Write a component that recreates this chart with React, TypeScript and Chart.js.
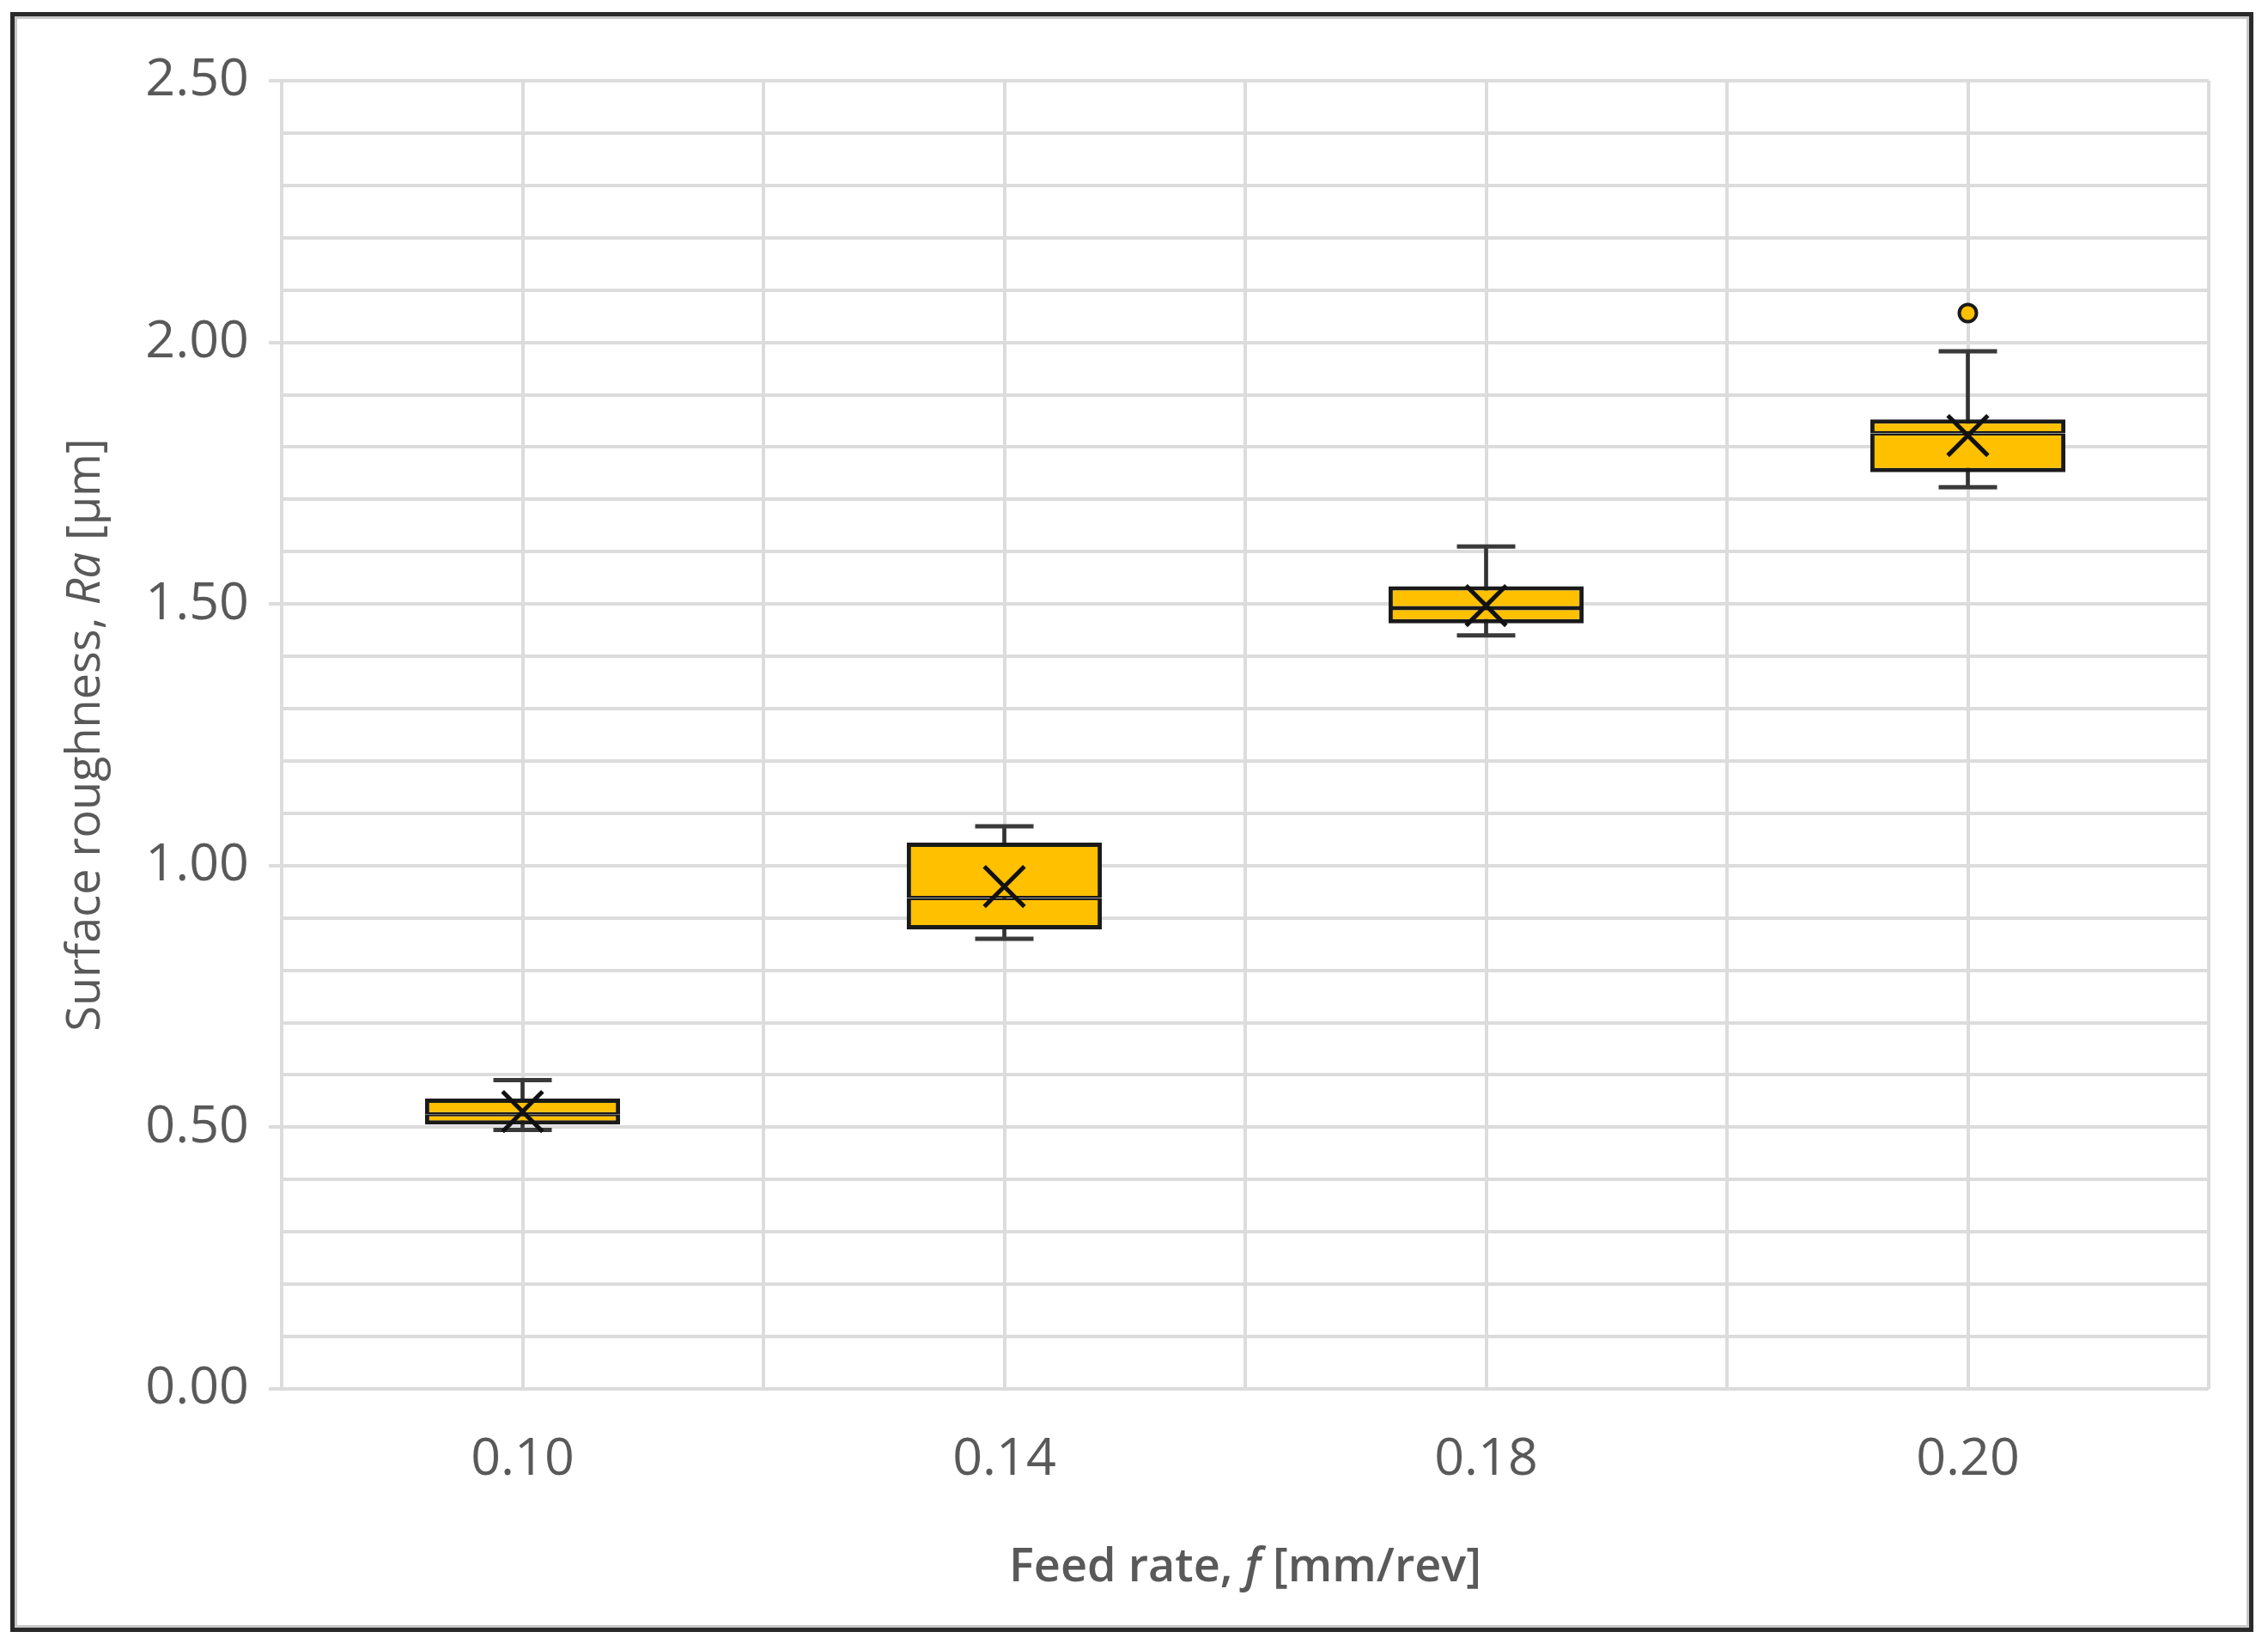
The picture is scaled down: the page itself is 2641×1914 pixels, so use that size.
import React, { useEffect, useRef } from 'react';
import { Chart, registerables } from 'chart.js';

Chart.register(...registerables);

// ---- data ----
const categories = ['0.10', '0.14', '0.18', '0.20'];
const minValues = [0.495, 0.86, 1.44, 1.723];
const q1Values = [0.505, 0.878, 1.463, 1.752];
const medianValues = [0.525, 0.938, 1.492, 1.826];
const q3Values = [0.555, 1.044, 1.534, 1.853];
const maxValues = [0.59, 1.075, 1.61, 1.983];
const meanValues = [0.53, 0.96, 1.497, 1.822];
const outlierValues = [null, null, null, 2.056];
const yTickLabels = ['0.00', '0.50', '1.00', '1.50', '2.00', '2.50'];
const yTitleParts = [
  { text: 'Surface roughness, ', italic: false },
  { text: 'Ra', italic: true },
  { text: ' [µm]', italic: false },
];
const xTitleParts = [
  { text: 'Feed rate, ', italic: false },
  { text: 'f', italic: true },
  { text: ' [mm/rev]', italic: false },
];

const FONT = '"Open Sans", "Noto Sans", sans-serif';
const TEXT = '#595959';
const GRID = '#dcdcdc';
const GOLD = '#FFC000';
const EDGE = '#1a1a1a';

function drawParts(ctx: CanvasRenderingContext2D, parts: { text: string; italic: boolean }[], cx: number, baseline: number, size: number, weight: number) {
  const fonts = parts.map((p) => `${p.italic ? 'italic ' : ''}${weight} ${size}px ${FONT}`);
  let total = 0;
  const widths = parts.map((p, i) => {
    ctx.font = fonts[i];
    const w = ctx.measureText(p.text).width;
    total += w;
    return w;
  });
  let x = cx - total / 2;
  ctx.textAlign = 'left';
  ctx.textBaseline = 'alphabetic';
  parts.forEach((p, i) => {
    ctx.font = fonts[i];
    ctx.fillText(p.text, x, baseline);
    x += widths[i];
  });
}

const titlePlugin = {
  id: 'axisTitles',
  afterDraw(chart: any) {
    const ctx = chart.ctx as CanvasRenderingContext2D;
    const a = chart.chartArea;
    ctx.save();
    ctx.fillStyle = TEXT;
    drawParts(ctx, xTitleParts, (a.left + a.right) / 2, a.bottom + 224, 54, 600);
    ctx.translate(a.left - 212, (a.top + a.bottom) / 2);
    ctx.rotate(-Math.PI / 2);
    drawParts(ctx, yTitleParts, 0, 0, 54, 400);
    ctx.restore();
  },
};

export default function App() {
  const canvasRef = useRef<HTMLCanvasElement | null>(null);

  useEffect(() => {
    document.body.style.margin = '0';
    const canvas = canvasRef.current;
    if (!canvas) return;
    const boxBar = {
      grouped: false,
      categoryPercentage: 1,
      barPercentage: 0.405,
      backgroundColor: GOLD,
      borderColor: EDGE,
      borderSkipped: false,
    };
    const chart = new Chart(canvas, {
      type: 'bar',
      data: {
        labels: categories,
        datasets: [
          {
            type: 'bar',
            label: 'whisker',
            data: categories.map((_, i) => [minValues[i], maxValues[i]]),
            grouped: false,
            barThickness: 4,
            backgroundColor: '#333333',
            borderWidth: 0,
            order: 10,
          } as any,
          {
            type: 'bar',
            label: 'lower box',
            data: categories.map((_, i) => [q1Values[i], medianValues[i]]),
            ...boxBar,
            borderWidth: { top: 2.5, bottom: 5, left: 5, right: 5 },
            order: 5,
          } as any,
          {
            type: 'bar',
            label: 'upper box',
            data: categories.map((_, i) => [medianValues[i], q3Values[i]]),
            ...boxBar,
            borderWidth: { top: 5, bottom: 2.5, left: 5, right: 5 },
            order: 5,
          } as any,
          {
            type: 'line',
            label: 'max cap',
            data: maxValues,
            showLine: false,
            pointStyle: 'line',
            pointRadius: 34,
            pointBorderWidth: 5,
            borderColor: '#3a3a3a',
            pointBorderColor: '#3a3a3a',
            order: 8,
          } as any,
          {
            type: 'line',
            label: 'min cap',
            data: minValues,
            showLine: false,
            pointStyle: 'line',
            pointRadius: 34,
            pointBorderWidth: 5,
            borderColor: '#3a3a3a',
            pointBorderColor: '#3a3a3a',
            order: 8,
          } as any,
          {
            type: 'line',
            label: 'mean',
            data: meanValues,
            showLine: false,
            pointStyle: 'crossRot',
            pointRadius: 33,
            pointBorderWidth: 5,
            borderColor: '#111111',
            pointBorderColor: '#111111',
            order: 1,
          } as any,
          {
            type: 'line',
            label: 'outlier',
            data: outlierValues,
            showLine: false,
            pointStyle: 'circle',
            pointRadius: 10,
            pointBorderWidth: 4,
            backgroundColor: GOLD,
            pointBackgroundColor: GOLD,
            borderColor: EDGE,
            pointBorderColor: EDGE,
            order: 1,
          } as any,
        ],
      },
      options: {
        animation: false,
        responsive: false,
        maintainAspectRatio: false,
        devicePixelRatio: 1,
        events: [],
        layout: { padding: { left: 0, top: 94, right: 69, bottom: 0 } },
        plugins: { legend: { display: false }, tooltip: { enabled: false }, title: { display: false } },
        scales: {
          x: {
            type: 'category',
            position: 'bottom',
            offset: true,
            grid: { offset: false, color: GRID, lineWidth: 4, drawTicks: false },
            border: { display: false },
            ticks: { color: TEXT, font: { family: FONT, size: 61 }, padding: 46, maxRotation: 0 },
            afterFit: (s: any) => { s.height = 297; },
          },
          x2: {
            type: 'category',
            position: 'top',
            labels: categories,
            offset: true,
            grid: { offset: true, color: GRID, lineWidth: 4, drawTicks: false },
            border: { display: false },
            ticks: { display: false },
            afterFit: (s: any) => { s.height = 0; },
          },
          y: {
            type: 'linear',
            min: 0,
            max: 2.5,
            grid: {
              color: GRID,
              lineWidth: 4,
              tickLength: 15,
              tickColor: (c: any) => {
                const v = Math.round((c.tick?.value ?? 0) * 100) / 100;
                return yTickLabels.includes(v.toFixed(2)) ? GRID : 'rgba(0,0,0,0)';
              },
            },
            border: { display: false },
            ticks: {
              stepSize: 0.1,
              maxTicksLimit: 40,
              autoSkip: false,
              color: TEXT,
              font: { family: FONT, size: 61 },
              padding: 23,
              callback: (v: any) => {
                const s = (Math.round(Number(v) * 100) / 100).toFixed(2);
                return yTickLabels.includes(s) ? s : '';
              },
            },
            afterFit: (s: any) => { s.width = 328; },
          },
        },
      } as any,
      plugins: [titlePlugin as any],
    });
    return () => chart.destroy();
  }, []);

  return (
    <div style={{ position: 'fixed', left: 0, top: 0, width: 2641, height: 1914, background: '#ffffff' }}>
      <canvas ref={canvasRef} width={2641} height={1914} style={{ position: 'absolute', left: 0, top: 0, width: 2641, height: 1914 }} />
      <div
        style={{
          position: 'absolute',
          left: 12,
          top: 14,
          width: 2612,
          height: 1886,
          boxSizing: 'border-box',
          border: '5px solid #2a2a2a',
          boxShadow: 'inset 0 0 0 3px #c8c8c8',
          pointerEvents: 'none',
        }}
      />
    </div>
  );
}
